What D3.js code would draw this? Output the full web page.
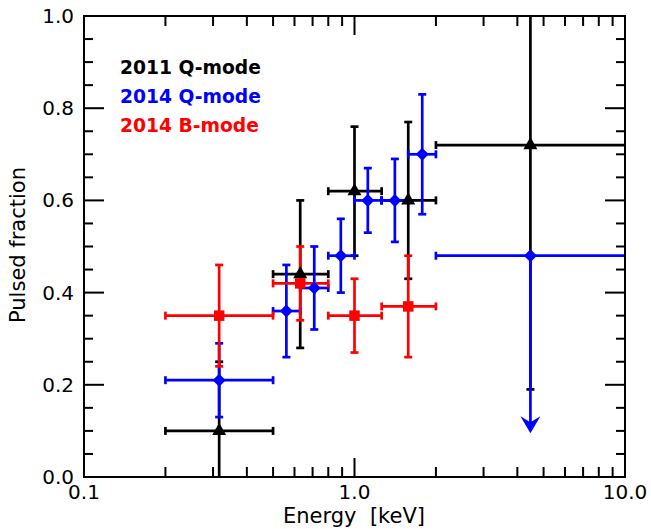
<!DOCTYPE html>
<html>
<head>
<meta charset="utf-8">
<script src="https://cdn.jsdelivr.net/npm/d3@7"></script>
<style>
  body { margin: 0; background: #fff; }
  text { font-family: "DejaVu Sans", sans-serif; }
</style>
</head>
<body>
<svg width="651" height="529"></svg>
<script>
// 2011 Q-mode (black triangles)
const q11X = [0.316, 0.63, 1.0, 1.58, 4.47];
const q11XLo = [0.2, 0.5, 0.8, 1.26, 2.0];
const q11XHi = [0.5, 0.8, 1.26, 2.0, 12];
const q11Y = [0.1, 0.44, 0.62, 0.6, 0.72];
const q11YLo = [-0.1, 0.28, 0.48, 0.43, 0.19];
const q11YHi = [0.25, 0.6, 0.76, 0.77, 1.2];

// 2014 Q-mode (blue diamonds)
const q14X = [0.316, 0.56, 0.71, 0.89, 1.12, 1.41, 1.78];
const q14XLo = [0.2, 0.5, 0.63, 0.8, 1.0, 1.26, 1.58];
const q14XHi = [0.5, 0.63, 0.8, 1.0, 1.26, 1.58, 2.0];
const q14Y = [0.21, 0.36, 0.41, 0.48, 0.6, 0.6, 0.7];
const q14YLo = [0.13, 0.26, 0.32, 0.4, 0.53, 0.51, 0.57];
const q14YHi = [0.29, 0.46, 0.5, 0.56, 0.67, 0.69, 0.83];
// 2014 Q-mode upper limit
const q14LimX = [4.47];
const q14LimXLo = [2.0];
const q14LimXHi = [12];
const q14LimY = [0.48];
const q14LimTo = [0.095];

// 2014 B-mode (red squares)
const b14X = [0.316, 0.63, 1.0, 1.58];
const b14XLo = [0.2, 0.5, 0.8, 1.26];
const b14XHi = [0.5, 0.8, 1.26, 2.0];
const b14Y = [0.35, 0.42, 0.35, 0.37];
const b14YLo = [0.24, 0.34, 0.27, 0.26];
const b14YHi = [0.46, 0.5, 0.43, 0.48];

const xTicks = [0.1, 1.0, 10.0];
const yTicks = [0, 0.2, 0.4, 0.6, 0.8, 1.0];

const mLeft = 84, mRight = 625, mTop = 16, mBottom = 477;
const svg = d3.select("svg");
const x = d3.scaleLog().domain([0.1, 10]).range([mLeft, mRight]);
const y = d3.scaleLinear().domain([0, 1]).range([mBottom, mTop]);

svg.append("clipPath").attr("id", "clip")
  .append("rect").attr("x", mLeft).attr("y", mTop)
  .attr("width", mRight - mLeft).attr("height", mBottom - mTop);

const plot = svg.append("g").attr("clip-path", "url(#clip)");

function zip(xs, xlo, xhi, ys, ylo, yhi) {
  return xs.map((d, i) => ({ x: d, xlo: xlo[i], xhi: xhi[i], y: ys[i], ylo: ylo[i], yhi: yhi[i] }));
}

const cap = 4;
function errorBars(data, color) {
  const g = plot.append("g").attr("stroke", color).attr("stroke-width", 2.7).attr("fill", "none");
  data.forEach((d) => {
    g.append("line").attr("x1", x(d.xlo)).attr("x2", x(d.xhi)).attr("y1", y(d.y)).attr("y2", y(d.y));
    g.append("line").attr("x1", x(d.x)).attr("x2", x(d.x)).attr("y1", y(d.ylo)).attr("y2", y(d.yhi));
    [d.xlo, d.xhi].forEach((v) => g.append("line").attr("x1", x(v)).attr("x2", x(v))
      .attr("y1", y(d.y) - cap).attr("y2", y(d.y) + cap));
    [d.ylo, d.yhi].forEach((v) => g.append("line").attr("y1", y(v)).attr("y2", y(v))
      .attr("x1", x(d.x) - cap).attr("x2", x(d.x) + cap));
  });
}

const q11 = zip(q11X, q11XLo, q11XHi, q11Y, q11YLo, q11YHi);
const q14 = zip(q14X, q14XLo, q14XHi, q14Y, q14YLo, q14YHi);
const b14 = zip(b14X, b14XLo, b14XHi, b14Y, b14YLo, b14YHi);

errorBars(q11, "#000");
errorBars(q14, "#0000ff");
errorBars(b14, "#ff0000");

// upper limit
q14LimX.forEach((v, i) => {
  const g = plot.append("g").attr("stroke", "#0000ff").attr("stroke-width", 2.7);
  g.append("line").attr("x1", x(q14LimXLo[i])).attr("x2", x(q14LimXHi[i]))
    .attr("y1", y(q14LimY[i])).attr("y2", y(q14LimY[i]));
  g.append("line").attr("x1", x(q14LimXLo[i])).attr("x2", x(q14LimXLo[i]))
    .attr("y1", y(q14LimY[i]) - cap).attr("y2", y(q14LimY[i]) + cap);
  g.append("line").attr("x1", x(v)).attr("x2", x(v))
    .attr("y1", y(q14LimY[i])).attr("y2", y(q14LimTo[i]) - 8);
  const tx = x(v), ty = y(q14LimTo[i]);
  plot.append("path")
    .attr("d", `M${tx},${ty} L${tx - 10},${ty - 17} L${tx},${ty - 11} L${tx + 10},${ty - 17} Z`)
    .attr("fill", "#0000ff");
  plot.append("path")
    .attr("d", d3.symbol(d3.symbolSquare, 85)())
    .attr("transform", `translate(${tx},${y(q14LimY[i])}) rotate(45)`)
    .attr("fill", "#0000ff");
});

// markers
plot.selectAll(".tri").data(q11).enter().append("path")
  .attr("d", d3.symbol(d3.symbolTriangle, 85)())
  .attr("transform", (d) => `translate(${x(d.x)},${y(d.y)})`)
  .attr("fill", "#000");
plot.selectAll(".dia").data(q14).enter().append("path")
  .attr("d", d3.symbol(d3.symbolSquare, 85)())
  .attr("transform", (d) => `translate(${x(d.x)},${y(d.y)}) rotate(45)`)
  .attr("fill", "#0000ff");
plot.selectAll(".sq").data(b14).enter().append("path")
  .attr("d", d3.symbol(d3.symbolSquare, 110)())
  .attr("transform", (d) => `translate(${x(d.x)},${y(d.y)})`)
  .attr("fill", "#ff0000");

// frame and ticks
const axes = svg.append("g").attr("stroke", "#000").attr("stroke-width", 2);
axes.append("rect").attr("x", mLeft).attr("y", mTop)
  .attr("width", mRight - mLeft).attr("height", mBottom - mTop).attr("fill", "none");

const minorX = [];
[0.1, 1].forEach((dec) => { for (let k = 2; k <= 9; k++) minorX.push(dec * k); });
minorX.forEach((v) => {
  axes.append("line").attr("x1", x(v)).attr("x2", x(v)).attr("y1", mBottom).attr("y2", mBottom - 10);
  axes.append("line").attr("x1", x(v)).attr("x2", x(v)).attr("y1", mTop).attr("y2", mTop + 10);
});
xTicks.forEach((v) => {
  axes.append("line").attr("x1", x(v)).attr("x2", x(v)).attr("y1", mBottom).attr("y2", mBottom - 19);
  axes.append("line").attr("x1", x(v)).attr("x2", x(v)).attr("y1", mTop).attr("y2", mTop + 19);
});
d3.range(0, 1.0001, 0.05).forEach((v, i) => {
  const len = i % 4 === 0 ? 20 : 9;
  axes.append("line").attr("x1", mLeft).attr("x2", mLeft + len).attr("y1", y(v)).attr("y2", y(v));
  axes.append("line").attr("x1", mRight).attr("x2", mRight - len).attr("y1", y(v)).attr("y2", y(v));
});

svg.selectAll(".xt").data(xTicks).enter().append("text")
  .attr("x", (d) => x(d)).attr("y", 499)
  .attr("text-anchor", "middle").attr("font-size", 20)
  .text((d) => d.toFixed(1));
svg.selectAll(".yt").data(yTicks).enter().append("text")
  .attr("x", 74).attr("y", (d) => y(d)).attr("dy", "0.35em")
  .attr("text-anchor", "end").attr("font-size", 20)
  .text((d) => d.toFixed(1));

svg.append("text").attr("x", 354).attr("y", 523).attr("text-anchor", "middle")
  .attr("font-size", 21).attr("xml:space", "preserve").text("Energy  [keV]");
svg.append("text").attr("transform", "translate(25,245) rotate(-90)")
  .attr("text-anchor", "middle").attr("font-size", 21).text("Pulsed fraction");

// legend
const legendLabels = ["2011 Q-mode", "2014 Q-mode", "2014 B-mode"];
const legendColors = ["#000", "#0000ff", "#ff0000"];
svg.selectAll(".lg").data(legendLabels).enter().append("text")
  .attr("x", 120).attr("y", (d, i) => 74 + i * 29)
  .attr("font-size", 18.7).attr("font-weight", "bold")
  .attr("fill", (d, i) => legendColors[i])
  .text((d) => d);
</script>
</body>
</html>
